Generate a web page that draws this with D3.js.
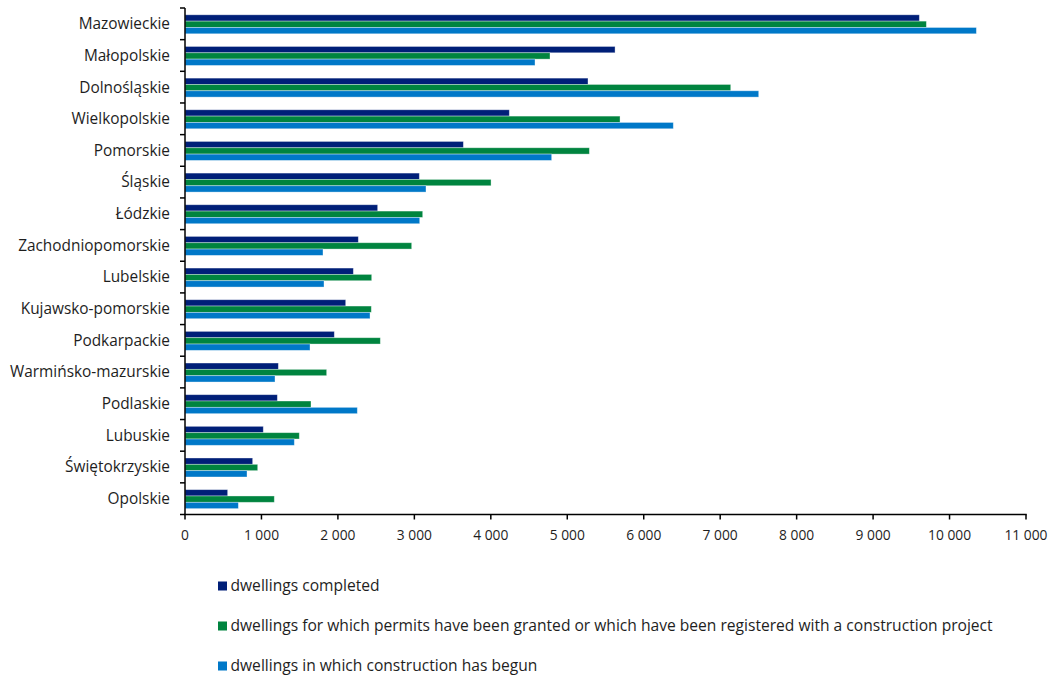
<!DOCTYPE html>
<html>
<head>
<meta charset="utf-8">
<script src="https://cdn.jsdelivr.net/npm/d3@7"></script>
<style>
  html, body { margin: 0; padding: 0; background: #fff; }
  svg { display: block; }
  text { font-family: "Open Sans", "Noto Sans", sans-serif; fill: #1e1e1e; }
</style>
</head>
<body>
<svg id="chart" width="1049" height="678"></svg>
<script>
const categories = ["Mazowieckie","Małopolskie","Dolnośląskie","Wielkopolskie","Pomorskie","Śląskie","Łódzkie","Zachodniopomorskie","Lubelskie","Kujawsko-pomorskie","Podkarpackie","Warmińsko-mazurskie","Podlaskie","Lubuskie","Świętokrzyskie","Opolskie"];
const seriesNames = [
  "dwellings completed",
  "dwellings for which permits have been granted or which have been registered with a construction project",
  "dwellings in which construction has begun"
];
const completed = [9605,5625,5271,4242,3641,3065,2520,2267,2202,2102,1953,1221,1208,1024,885,558];
const permits   = [9697,4774,7138,5690,5289,4003,3109,2965,2442,2437,2555,1853,1648,1495,951,1168];
const begun     = [10351,4578,7504,6387,4796,3152,3070,1805,1818,2420,1635,1177,2254,1430,811,698];
const xTicks = [0,1000,2000,3000,4000,5000,6000,7000,8000,9000,10000,11000];
const colors = ["#001f78","#00843f","#0078c8"];

const seriesValues = [completed, permits, begun];
const svg = d3.select("#chart");

const x = d3.scaleLinear().domain([0, 11000]).range([185, 1026]);
const y = d3.scaleBand().domain(categories).range([8, 514.5]).paddingInner(0).paddingOuter(0);
const step = y.step();
const ySub = d3.scaleBand().domain(d3.range(3)).range([step * 0.215, step * 0.815]).padding(0);

const fmt = d3.formatLocale({decimal: ",", thousands: " ", grouping: [3], currency: ["", ""]}).format(",d");

// bars
const g = svg.append("g");
seriesValues.forEach((vals, si) => {
  g.selectAll(".s" + si)
    .data(categories.map((c, i) => ({c, v: vals[i]})))
    .join("rect")
    .attr("x", x(0))
    .attr("y", d => y(d.c) + ySub(si))
    .attr("width", d => x(d.v) - x(0))
    .attr("height", ySub.bandwidth())
    .attr("fill", colors[si])
    .attr("stroke", "rgba(255,255,255,0.45)")
    .attr("stroke-width", 0.8);
});

// y axis
const yAxis = svg.append("g");
yAxis.append("line")
  .attr("x1", x(0)).attr("x2", x(0))
  .attr("y1", y.range()[0]).attr("y2", y.range()[1])
  .attr("stroke", "#000").attr("stroke-width", 1.5);
const bounds = d3.range(categories.length + 1).map(i => y.range()[0] + i * step);
yAxis.selectAll(".yt").data(bounds).join("line")
  .attr("x1", x(0) - 5).attr("x2", x(0))
  .attr("y1", d => d).attr("y2", d => d)
  .attr("stroke", "#000").attr("stroke-width", 1.5);
yAxis.selectAll(".yl").data(categories).join("text")
  .attr("x", 170)
  .attr("y", d => y(d) + step / 2)
  .attr("dy", "0.35em")
  .attr("text-anchor", "end")
  .attr("font-size", 15.4)
  .text(d => d);

// x axis
const axisY = y.range()[1];
const xAxis = svg.append("g");
xAxis.append("line")
  .attr("x1", x(0) - 0.75).attr("x2", x(11000) + 0.75)
  .attr("y1", axisY).attr("y2", axisY)
  .attr("stroke", "#000").attr("stroke-width", 1.5);
xAxis.selectAll(".xt").data(xTicks).join("line")
  .attr("x1", d => x(d)).attr("x2", d => x(d))
  .attr("y1", axisY).attr("y2", axisY + 5)
  .attr("stroke", "#000").attr("stroke-width", 1.5);
xAxis.selectAll(".xl").data(xTicks).join("text")
  .attr("x", d => x(d))
  .attr("y", 535)
  .attr("dy", "0.35em")
  .attr("text-anchor", "middle")
  .attr("font-size", 13.8)
  .text(d => fmt(d));

// legend
const legend = svg.append("g");
seriesNames.forEach((name, i) => {
  const ly = 586 + i * 40;
  legend.append("rect")
    .attr("x", 218).attr("y", ly - 4.5)
    .attr("width", 9).attr("height", 9)
    .attr("fill", colors[i]);
  legend.append("text")
    .attr("x", 230.5).attr("y", ly)
    .attr("dy", "0.35em")
    .attr("font-size", 15.6)
    .text(name);
});
</script>
</body>
</html>
